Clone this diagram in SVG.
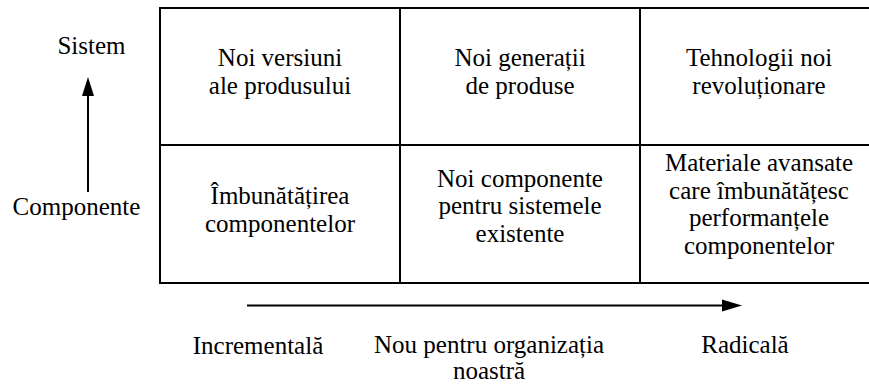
<svg xmlns="http://www.w3.org/2000/svg" width="869" height="388" viewBox="0 0 869 388">
<style>
.t text{font-size:25px;fill:#000;text-anchor:middle}
.g{stroke:#000;stroke-width:2;fill:none}
.a{stroke:#000;stroke-width:2}
.h{fill:#000}
</style>
<rect width="869" height="388" fill="#fff"/>
<g id="grid">
<line class="g" x1="159" y1="8" x2="869" y2="8"/>
<line class="g" x1="159" y1="145" x2="869" y2="145"/>
<line class="g" x1="159" y1="283" x2="869" y2="283"/>
<line class="g" x1="160" y1="7" x2="160" y2="284"/>
<line class="g" x1="400" y1="7" x2="400" y2="284"/>
<line class="g" x1="640" y1="7" x2="640" y2="284"/>
</g>
<g class="t" font-family="Liberation Serif, Tinos, Times New Roman, DejaVu Serif, serif">
<g id="cell-1-1"><text x="280" y="66">Noi versiuni</text><text x="280" y="94">ale produsului</text></g>
<g id="cell-1-2"><text x="520" y="66">Noi generații</text><text x="520" y="94">de produse</text></g>
<g id="cell-1-3"><text x="759" y="66">Tehnologii noi</text><text x="759" y="94">revoluționare</text></g>
<g id="cell-2-1"><text x="280" y="204">Îmbunătățirea</text><text x="280" y="232">componentelor</text></g>
<g id="cell-2-2"><text x="520" y="187">Noi componente</text><text x="520" y="214">pentru sistemele</text><text x="520" y="242">existente</text></g>
<g id="cell-2-3"><text x="759" y="171">Materiale avansate</text><text x="759" y="198.5">care îmbunătățesc</text><text x="759" y="226">performanțele</text><text x="759" y="253.5">componentelor</text></g>
<g id="label-sistem"><text x="91.5" y="54">Sistem</text></g>
<g id="label-componente"><text x="76.5" y="215">Componente</text></g>
<g id="label-incrementala"><text x="258" y="354">Incrementală</text></g>
<g id="label-nou"><text x="489" y="353">Nou pentru organizația</text><text x="489" y="379">noastră</text></g>
<g id="label-radicala"><text x="745" y="353">Radicală</text></g>
</g>
<g id="connectors">
<line class="a" x1="88" y1="192" x2="88" y2="95"/>
<polygon class="h" points="82,96 88,77 94,96"/>
<line class="a" x1="247" y1="305.5" x2="723" y2="305.5"/>
<polygon class="h" points="722,299.5 742,305.5 722,311.5"/>
</g>
</svg>
